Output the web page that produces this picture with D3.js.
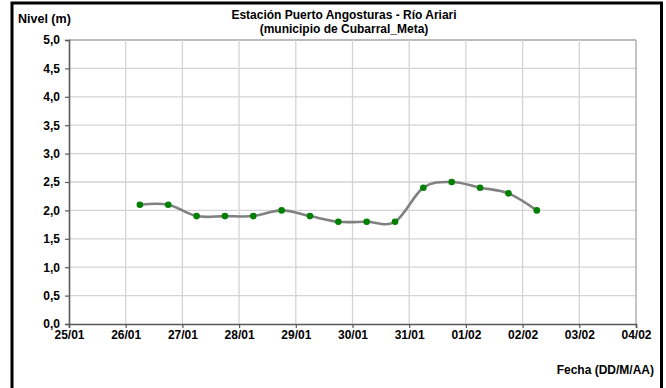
<!DOCTYPE html>
<html>
<head>
<meta charset="utf-8">
<script src="https://cdn.jsdelivr.net/npm/d3@7"></script>
<style>
  html, body { margin: 0; padding: 0; background: #fff; }
  svg { display: block; }
  text { font-family: "Liberation Sans", Arial, sans-serif; font-weight: bold; fill: #000; }
</style>
</head>
<body>
<svg id="chart" width="666" height="388"></svg>
<script>
// Fechas de medición (día fraccionario desde el 25/01: 1.25 = 26/01 06:00)
const dayOffsets = [1.25, 1.75, 2.25, 2.75, 3.25, 3.75, 4.25, 4.75, 5.25, 5.75, 6.25, 6.75, 7.25, 7.75, 8.25];
// Nivel del río (m)
const levels = [2.1, 2.1, 1.9, 1.9, 1.9, 2.0, 1.9, 1.8, 1.8, 1.8, 2.4, 2.5, 2.4, 2.3, 2.0];
// Etiquetas del eje X
const dateLabels = ["25/01", "26/01", "27/01", "28/01", "29/01", "30/01", "31/01", "01/02", "02/02", "03/02", "04/02"];
// Marcas del eje Y
const levelTicks = [0, 0.5, 1, 1.5, 2, 2.5, 3, 3.5, 4, 4.5, 5];

const svg = d3.select("#chart");

// Marco exterior
svg.append("rect")
  .attr("x", 12).attr("y", 3)
  .attr("width", 649.5).attr("height", 420)
  .attr("fill", "none").attr("stroke", "#000").attr("stroke-width", 3);

const plotL = 69, plotR = 636, plotT = 40, plotB = 324;

const x = d3.scaleLinear().domain([0, dateLabels.length - 1]).range([plotL, plotR]);
const y = d3.scaleLinear().domain([0, 5]).range([plotB, plotT]);

// Cuadrícula
const grid = svg.append("g");
grid.selectAll("line.h").data(levelTicks.filter(t => t > 0)).enter().append("line")
  .attr("x1", plotL).attr("x2", plotR)
  .attr("y1", d => y(d)).attr("y2", d => y(d))
  .attr("stroke", d => d === 5 ? "#a6a6a6" : "#d4d4d4").attr("stroke-width", 1.3);
grid.selectAll("line.v").data(d3.range(1, dateLabels.length)).enter().append("line")
  .attr("y1", plotT).attr("y2", plotB)
  .attr("x1", d => x(d)).attr("x2", d => x(d))
  .attr("stroke", d => d === dateLabels.length - 1 ? "#a6a6a6" : "#d4d4d4").attr("stroke-width", 1.3);

// Eje Y
const yAxis = svg.append("g")
  .attr("transform", `translate(${plotL},0)`)
  .call(d3.axisLeft(y).tickValues(levelTicks).tickSize(4).tickPadding(5)
    .tickFormat(d => d3.format(".1f")(d).replace(".", ",")));
yAxis.select(".domain").attr("stroke", "#595959").attr("stroke-width", 1.6);
yAxis.selectAll(".tick line").attr("stroke", "#595959").attr("stroke-width", 1.2);
yAxis.selectAll(".tick text").attr("font-size", 12).attr("font-family", "Liberation Sans, Arial, sans-serif")
  .attr("font-weight", "bold").attr("fill", "#000");

// Eje X
const xAxis = svg.append("g")
  .attr("transform", `translate(0,${plotB})`)
  .call(d3.axisBottom(x).tickValues(d3.range(dateLabels.length)).tickSize(4).tickPadding(2)
    .tickFormat(i => dateLabels[i]));
xAxis.select(".domain").attr("stroke", "#595959").attr("stroke-width", 1.6);
xAxis.selectAll(".tick line").attr("stroke", "#595959").attr("stroke-width", 1.2);
xAxis.selectAll(".tick text").attr("font-size", 12).attr("font-family", "Liberation Sans, Arial, sans-serif")
  .attr("font-weight", "bold").attr("fill", "#000");

// Serie suavizada
const pts = dayOffsets.map((d, i) => [d, levels[i]]);
const line = d3.line().x(d => x(d[0])).y(d => y(d[1])).curve(d3.curveCardinal.tension(0));
svg.append("path").datum(pts)
  .attr("d", line)
  .attr("fill", "none").attr("stroke", "#808080").attr("stroke-width", 2.6);

svg.append("g").selectAll("circle").data(pts).enter().append("circle")
  .attr("cx", d => x(d[0])).attr("cy", d => y(d[1])).attr("r", 3.3)
  .attr("fill", "#008000");

// Títulos
svg.append("text").attr("x", 344).attr("y", 19).attr("text-anchor", "middle")
  .attr("font-size", 12).text("Estación Puerto Angosturas - Río Ariari");
svg.append("text").attr("x", 344).attr("y", 32.5).attr("text-anchor", "middle")
  .attr("font-size", 12).text("(municipio de Cubarral_Meta)");
svg.append("text").attr("x", 18).attr("y", 23)
  .attr("font-size", 12.5).text("Nivel (m)");
svg.append("text").attr("x", 654).attr("y", 374).attr("text-anchor", "end")
  .attr("font-size", 12).text("Fecha (DD/M/AA)");
</script>
</body>
</html>
